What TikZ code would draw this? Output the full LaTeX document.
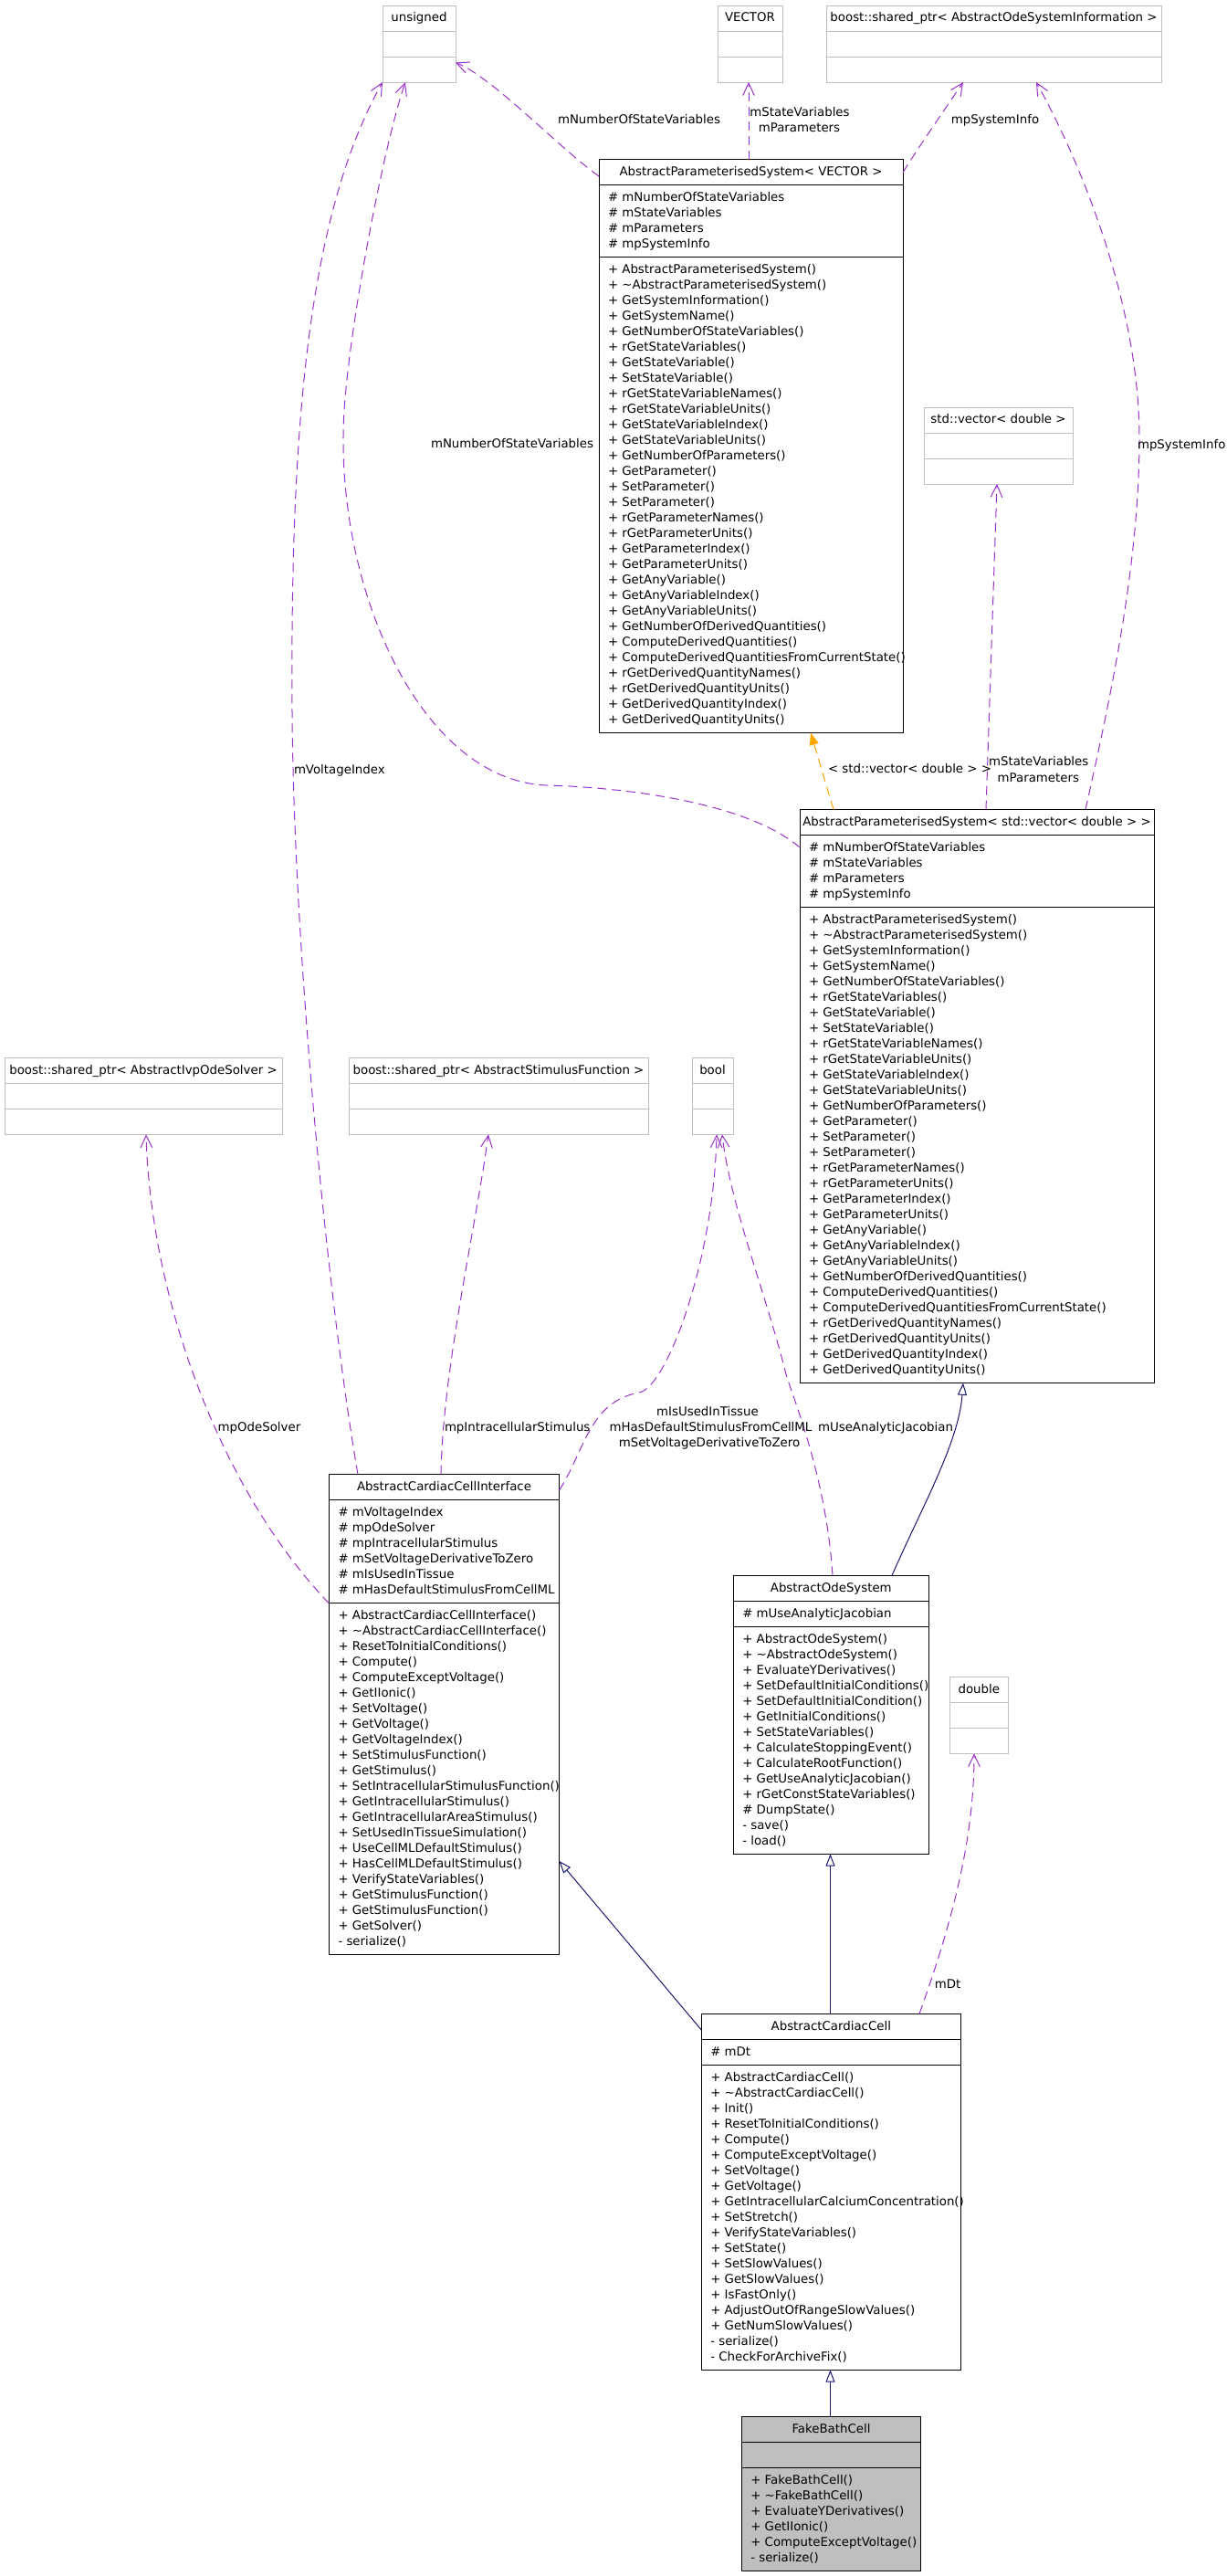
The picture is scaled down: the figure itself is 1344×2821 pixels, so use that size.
\documentclass[tikz,border=0pt]{standalone}
\usepackage{fontspec}
\setmainfont{DejaVu Sans}
\usetikzlibrary{calc,arrows.meta}

\definecolor{edgepurple}{HTML}{9A32CD}
\definecolor{inhblue}{HTML}{191970}
\definecolor{tmplorange}{HTML}{FFA500}
\definecolor{undocgray}{HTML}{BFBFBF}

\tikzset{
  cbtext/.style={font=\fontsize{10pt}{12.75pt}\selectfont, inner sep=0pt, outer sep=0pt, text=black},
  boxdoc/.style={rectangle, draw=black, line width=0.75pt, fill=white, inner sep=0pt, outer sep=0pt},
  boxundoc/.style={rectangle, draw=undocgray, line width=0.75pt, fill=white, inner sep=0pt, outer sep=0pt},
  boxcur/.style={rectangle, draw=black, line width=0.75pt, fill=undocgray, inner sep=0pt, outer sep=0pt},
  sepdoc/.style={draw=black, line width=0.75pt},
  sepundoc/.style={draw=undocgray, line width=0.75pt},
  cbbox/.style={boxdoc},
  cbsep/.style={sepdoc},
  member/.style={cbtext, anchor=base west},
  ctitle/.style={cbtext, anchor=base},
  elabel/.style={cbtext, anchor=base},
  usage/.style={draw=edgepurple, line width=0.75pt, dash pattern=on 7.5pt off 4.5pt,
    -{Straight Barb[length=10pt,width=9.5pt,line width=0.75pt]}},
  inherit/.style={draw=inhblue, line width=0.75pt,
    -{Triangle[open,length=10pt,width=7.5pt,fill=white,line width=0.75pt]}},
  tmpl/.style={draw=tmplorange, line width=0.75pt, dash pattern=on 7.5pt off 4.5pt,
    -{Triangle[length=10pt,width=7.5pt]}},
}

\newcommand{\docclass}{\tikzset{cbbox/.style={boxdoc},cbsep/.style={sepdoc}}}
\newcommand{\undocclass}{\tikzset{cbbox/.style={boxundoc},cbsep/.style={sepundoc}}}
\newcommand{\curclass}{\tikzset{cbbox/.style={boxcur},cbsep/.style={sepdoc}}}

% #1 name, #2 left, #3 top, #4 right, #5 n attrs, #6 n methods, #7 title, #8 attrs, #9 methods
\newcommand{\classbox}[9]{%
  \pgfmathsetmacro\cbw{#4-#2}%
  \pgfmathsetmacro\cbha{max(1,#5)*17+11}%
  \pgfmathsetmacro\cbhm{max(1,#6)*17+11}%
  \pgfmathsetmacro\cbh{28+\cbha+\cbhm}%
  \pgfmathsetmacro\cbsm{28+\cbha}%
  \node[cbbox, minimum width=\cbw*0.75pt, minimum height=\cbh*0.75pt, anchor=north west] (#1) at (#2,#3) {};
  \draw[cbsep] ($(#1.north west)+(0,28)$) -- ++(\cbw,0);
  \draw[cbsep] ($(#1.north west)+(0,\cbsm)$) -- ++(\cbw,0);
  \node[ctitle] at ($(#1.north)+(0,17.8)$) {#7};
  \def\cblista{#8}%
  \ifx\cblista\empty\else
    \foreach \cbt [count=\cbi from 0] in {#8} {\node[member] at ($(#1.north west)+(10,{45.8+17*\cbi})$) {\cbt};}%
  \fi
  \def\cblistm{#9}%
  \ifx\cblistm\empty\else
    \foreach \cbt [count=\cbi from 0] in {#9} {\node[member] at ($(#1.north west)+(10,{\cbsm+17.8+17*\cbi})$) {\cbt};}%
  \fi
}

\begin{document}
\begin{tikzpicture}[x=0.75pt,y=-0.75pt]
\fill[white] (0,0) rectangle (1344,2821);
\useasboundingbox (0,0) rectangle (1344,2821);

% ---------- undocumented / external types ----------
\undocclass
\classbox{uns}{419}{6}{499}{0}{0}{unsigned}{}{}
\classbox{vec}{786}{6}{857}{0}{0}{VECTOR}{}{}
\classbox{aosi}{905}{6}{1272}{0}{0}{boost::shared\_ptr< AbstractOdeSystemInformation >}{}{}
\classbox{stdvec}{1012}{446}{1175}{0}{0}{std::vector< double >}{}{}
\classbox{ivp}{5}{1158.3}{309}{0}{0}{boost::shared\_ptr< AbstractIvpOdeSolver >}{}{}
\classbox{stim}{382}{1158.3}{710}{0}{0}{boost::shared\_ptr< AbstractStimulusFunction >}{}{}
\classbox{bool}{758}{1158.3}{803}{0}{0}{bool}{}{}
\classbox{dbl}{1040.3}{1836.3}{1104.3}{0}{0}{double}{}{}

% ---------- documented classes ----------
\docclass
\classbox{apsv}{656}{174.5}{989}{4}{30}{AbstractParameterisedSystem< VECTOR >}%
{\# mNumberOfStateVariables,\# mStateVariables,\# mParameters,\# mpSystemInfo}%
{+ AbstractParameterisedSystem(),+ \textasciitilde AbstractParameterisedSystem(),+ GetSystemInformation(),+ GetSystemName(),+ GetNumberOfStateVariables(),+ rGetStateVariables(),+ GetStateVariable(),+ SetStateVariable(),+ rGetStateVariableNames(),+ rGetStateVariableUnits(),+ GetStateVariableIndex(),+ GetStateVariableUnits(),+ GetNumberOfParameters(),+ GetParameter(),+ SetParameter(),+ SetParameter(),+ rGetParameterNames(),+ rGetParameterUnits(),+ GetParameterIndex(),+ GetParameterUnits(),+ GetAnyVariable(),+ GetAnyVariableIndex(),+ GetAnyVariableUnits(),+ GetNumberOfDerivedQuantities(),+ ComputeDerivedQuantities(),+ ComputeDerivedQuantitiesFromCurrentState(),+ rGetDerivedQuantityNames(),+ rGetDerivedQuantityUnits(),+ GetDerivedQuantityIndex(),+ GetDerivedQuantityUnits()}

\classbox{apsd}{876}{886.5}{1264}{4}{30}{AbstractParameterisedSystem< std::vector< double > >}%
{\# mNumberOfStateVariables,\# mStateVariables,\# mParameters,\# mpSystemInfo}%
{+ AbstractParameterisedSystem(),+ \textasciitilde AbstractParameterisedSystem(),+ GetSystemInformation(),+ GetSystemName(),+ GetNumberOfStateVariables(),+ rGetStateVariables(),+ GetStateVariable(),+ SetStateVariable(),+ rGetStateVariableNames(),+ rGetStateVariableUnits(),+ GetStateVariableIndex(),+ GetStateVariableUnits(),+ GetNumberOfParameters(),+ GetParameter(),+ SetParameter(),+ SetParameter(),+ rGetParameterNames(),+ rGetParameterUnits(),+ GetParameterIndex(),+ GetParameterUnits(),+ GetAnyVariable(),+ GetAnyVariableIndex(),+ GetAnyVariableUnits(),+ GetNumberOfDerivedQuantities(),+ ComputeDerivedQuantities(),+ ComputeDerivedQuantitiesFromCurrentState(),+ rGetDerivedQuantityNames(),+ rGetDerivedQuantityUnits(),+ GetDerivedQuantityIndex(),+ GetDerivedQuantityUnits()}

\classbox{acci}{360.5}{1614.5}{612.5}{6}{22}{AbstractCardiacCellInterface}%
{\# mVoltageIndex,\# mpOdeSolver,\# mpIntracellularStimulus,\# mSetVoltageDerivativeToZero,\# mIsUsedInTissue,\# mHasDefaultStimulusFromCellML}%
{+ AbstractCardiacCellInterface(),+ \textasciitilde AbstractCardiacCellInterface(),+ ResetToInitialConditions(),+ Compute(),+ ComputeExceptVoltage(),+ GetIIonic(),+ SetVoltage(),+ GetVoltage(),+ GetVoltageIndex(),+ SetStimulusFunction(),+ GetStimulus(),+ SetIntracellularStimulusFunction(),+ GetIntracellularStimulus(),+ GetIntracellularAreaStimulus(),+ SetUsedInTissueSimulation(),+ UseCellMLDefaultStimulus(),+ HasCellMLDefaultStimulus(),+ VerifyStateVariables(),+ GetStimulusFunction(),+ GetStimulusFunction(),+ GetSolver(),- serialize()}

\classbox{aos}{803.3}{1725.3}{1017.3}{1}{14}{AbstractOdeSystem}%
{\# mUseAnalyticJacobian}%
{+ AbstractOdeSystem(),+ \textasciitilde AbstractOdeSystem(),+ EvaluateYDerivatives(),+ SetDefaultInitialConditions(),+ SetDefaultInitialCondition(),+ GetInitialConditions(),+ SetStateVariables(),+ CalculateStoppingEvent(),+ CalculateRootFunction(),+ GetUseAnalyticJacobian(),+ rGetConstStateVariables(),\# DumpState(),- save(),- load()}

\classbox{acc}{768.3}{2205.3}{1052.3}{1}{19}{AbstractCardiacCell}%
{\# mDt}%
{+ AbstractCardiacCell(),+ \textasciitilde AbstractCardiacCell(),+ Init(),+ ResetToInitialConditions(),+ Compute(),+ ComputeExceptVoltage(),+ SetVoltage(),+ GetVoltage(),+ GetIntracellularCalciumConcentration(),+ SetStretch(),+ VerifyStateVariables(),+ SetState(),+ SetSlowValues(),+ GetSlowValues(),+ IsFastOnly(),+ AdjustOutOfRangeSlowValues(),+ GetNumSlowValues(),- serialize(),- CheckForArchiveFix()}

\curclass
\classbox{fbc}{812.3}{2646.3}{1008.7}{0}{6}{FakeBathCell}{}%
{+ FakeBathCell(),+ \textasciitilde FakeBathCell(),+ EvaluateYDerivatives(),+ GetIIonic(),+ ComputeExceptVoltage(),- serialize()}

% ---------- usage (collaboration) edges ----------
\draw[usage] ($(apsv.north west)+(0,18.5)$) .. controls (610,160) and (540,85) .. ($(uns.north east)+(0,62.5)$);
\draw[usage] ($(apsv.north west)+(164,0)$) -- ($(vec.south west)+(34,0)$);
\draw[usage] ($(apsv.north east)+(0,14.5)$) .. controls (1000,170) and (1045,105) .. ($(aosi.south west)+(150,0)$);
\draw[usage] ($(apsd.north west)+(313,0)$) .. controls (1215,770) and (1248,620) .. (1248,480)
   .. controls (1248,330) and (1180,170) .. ($(aosi.south west)+(230,0)$);
\draw[usage] ($(apsd.north west)+(204,0)$) -- ($(stdvec.south west)+(80,0)$);
\draw[usage] ($(apsd.north west)+(0,41.5)$) .. controls (820,880) and (690,862.6) .. (600,860)
   .. controls (460,856) and (365,640) .. (377,450)
   .. controls (383,355) and (420,160) .. ($(uns.south west)+(25,0)$);
\draw[usage] ($(acci.north west)+(31.5,0)$) .. controls (360,1430) and (322,1050) .. (320,780)
   .. controls (318,480) and (335,240) .. (uns.south west);
\draw[usage] ($(acci.north west)+(0,141.5)$) .. controls (240,1630) and (165,1420) .. ($(ivp.south west)+(155,0)$);
\draw[usage] ($(acci.north west)+(122.5,0)$) .. controls (485,1500) and (520,1350) .. ($(stim.south west)+(153,0)$);
\draw[usage] ($(acci.north east)+(0,17.5)$) .. controls (640,1590) and (645,1535) .. (700,1525)
   .. controls (730,1520) and (782,1380) .. ($(bool.south west)+(27,0)$);
\draw[usage] ($(aos.north west)+(108.7,0)$) .. controls (905,1620) and (872,1540) .. (861,1505)
   .. controls (840,1420) and (800,1320) .. ($(bool.south west)+(33,0)$);
\draw[usage] ($(acc.north west)+(238.7,0)$) .. controls (1045,2100) and (1067,2010) .. ($(dbl.south west)+(26.7,0)$);

% ---------- template instance edge ----------
\draw[tmpl] ($(apsd.north west)+(37,0)$) -- ($(apsv.south west)+(232,0)$);

% ---------- inheritance edges ----------
\draw[inherit] ($(aos.north west)+(173.7,0)$) .. controls (1010,1650) and (1050,1580) .. ($(apsd.south west)+(179,0)$);
\draw[inherit] ($(acc.north west)+(141.2,0)$) -- ($(aos.south west)+(106.2,0)$);
\draw[inherit] ($(acc.north west)+(0,17.7)$) -- ($(acci.north east)+(0,423.5)$);
\draw[inherit] ($(fbc.north west)+(97.2,0)$) -- ($(acc.south west)+(141.2,0)$);

% ---------- edge labels ----------
\node[elabel] (l1) at (700,135.5) {mNumberOfStateVariables};
\node[elabel] (l2a) at (876,127.2) {mStateVariables};
\node[elabel] (l2b) at (875.5,144.5) {mParameters};
\node[elabel] (l3) at (1090,135.5) {mpSystemInfo};
\node[elabel, anchor=base west] (l4) at (1246,491) {mpSystemInfo};
\node[elabel] (l5a) at (1137.7,838.8) {mStateVariables};
\node[elabel] (l5b) at (1137.3,856.2) {mParameters};
\node[elabel, anchor=base east] (l6) at (1086,846.5) {< std::vector< double > >};
\node[elabel] (l7) at (561,490.7) {mNumberOfStateVariables};
\node[elabel, anchor=base west] (l8) at (322,847) {mVoltageIndex};
\node[elabel] (l9) at (284,1567.2) {mpOdeSolver};
\node[elabel, anchor=base west] (l10) at (487,1567.2) {mpIntracellularStimulus};
\node[elabel] (l11a) at (775,1550.2) {mIsUsedInTissue};
\node[elabel] (l11b) at (778.5,1567.2) {mHasDefaultStimulusFromCellML};
\node[elabel] (l11c) at (777,1584.5) {mSetVoltageDerivativeToZero};
\node[elabel] (l12) at (970,1567.2) {mUseAnalyticJacobian};
\node[elabel] (l13) at (1038,2177.5) {mDt};
\end{tikzpicture}
\end{document}
